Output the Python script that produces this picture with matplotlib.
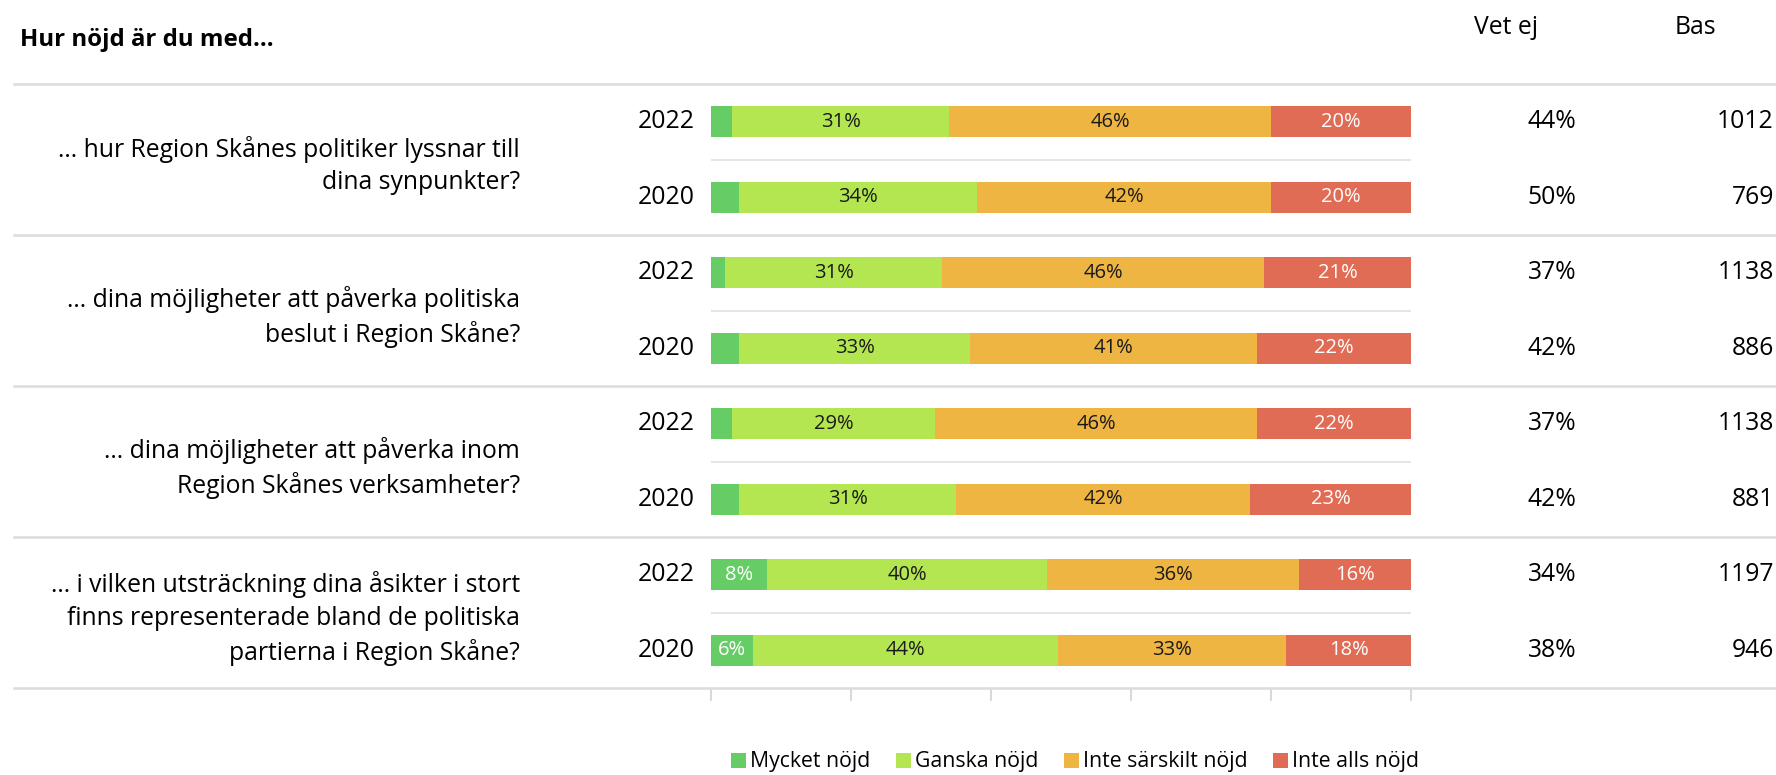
import matplotlib
matplotlib.use("Agg")
import matplotlib.pyplot as plt
import matplotlib.transforms as mtransforms
from matplotlib.lines import Line2D
from matplotlib.patches import Patch
import numpy as np

plt.rcParams['font.family'] = ['Open Sans', 'DejaVu Sans']

# --- data ---
questions = [
    "… hur Region Skånes politiker lyssnar till\ndina synpunkter?",
    "… dina möjligheter att påverka politiska\nbeslut i Region Skåne?",
    "… dina möjligheter att påverka inom\nRegion Skånes verksamheter?",
    "… i vilken utsträckning dina åsikter i stort\nfinns representerade bland de politiska\npartierna i Region Skåne?",
]
years = ["2022", "2020"] * 4
categories = ["Mycket nöjd", "Ganska nöjd", "Inte särskilt nöjd", "Inte alls nöjd"]
mycket = [3, 4, 2, 4, 3, 4, 8, 6]
ganska = [31, 34, 31, 33, 29, 31, 40, 44]
inte_sarskilt = [46, 42, 46, 41, 46, 42, 36, 33]
inte_alls = [20, 20, 21, 22, 22, 23, 16, 18]
vet_ej = [44, 50, 37, 42, 37, 42, 34, 38]
bas = [1012, 769, 1138, 886, 1138, 881, 1197, 946]

colors = ["#66CC66", "#B3E650", "#EFB543", "#E06C55"]
label_colors = ["white", "#1a1a1a", "#1a1a1a", "white"]

W, H = 1776, 775
fig = plt.figure(figsize=(W / 100, H / 100), dpi=100)

def fx(px):
    return px / W

def fy(py):
    return 1 - py / H

# bar axes: rows 0..7, separators at half rows
ax = fig.add_axes([fx(711), fy(688), fx(1411) - fx(711), fy(84) - fy(688)])
ax.set_xlim(0, 100)
ax.set_ylim(7.5, -0.5)

series = np.array([mycket, ganska, inte_sarskilt, inte_alls], dtype=float)
shares = series / series.sum(axis=0) * 100
rows = np.arange(len(years))
left = np.zeros(len(years))
for i, cat in enumerate(categories):
    ax.barh(rows, shares[i], left=left, height=0.41, color=colors[i], label=cat)
    for r in rows:
        if series[i, r] >= 5:
            ax.text(left[r] + shares[i, r] / 2, r, f"{series[i, r]:.0f}%",
                    ha='center', va='center', fontsize=14.5, color=label_colors[i])
    left += shares[i]

for s in ax.spines.values():
    s.set_visible(False)
ax.set_yticks([])
ax.set_xticks([0, 20, 40, 60, 80, 100])
ax.tick_params(axis='x', length=9, width=1.5, color='#D9D9D9', labelbottom=False)

blend = mtransforms.blended_transform_factory(fig.transFigure, ax.transData)

# group separators (full width) and row separators (bar area)
for g in range(5):
    y = g * 2 - 0.5
    ax.add_line(Line2D([fx(14), 1.0], [y, y], transform=blend, color='#DCDCDC',
                       lw=1.8, clip_on=False))
for g in range(4):
    y = g * 2 + 0.5
    ax.axhline(y, color='#E3E3E3', lw=1.3)

# year, vet ej, bas columns
for r in rows:
    fig.text(fx(695), r, years[r], transform=blend, ha='right', va='center', fontsize=17.8)
    fig.text(fx(1552), r, f"{vet_ej[r]}%", transform=blend, ha='center', va='center', fontsize=17.8)
    fig.text(fx(1774), r, f"{bas[r]}", transform=blend, ha='right', va='center', fontsize=17.8)

# question labels
for q, text in enumerate(questions):
    fig.text(fx(520), q * 2 + 0.58, text, transform=blend, ha='right', va='center',
             fontsize=17.8, linespacing=1.38, multialignment='right')

# headers
fig.text(fx(20), fy(40), "Hur nöjd är du med…", ha='left', va='center',
         fontsize=17.3, fontweight='bold')
fig.text(fx(1506), fy(28), "Vet ej", ha='center', va='center', fontsize=17.8)
fig.text(fx(1695), fy(28), "Bas", ha='center', va='center', fontsize=17.8)

handles = [Patch(facecolor=c, label=l) for c, l in zip(colors, categories)]
fig.legend(handles=handles, loc='center', bbox_to_anchor=(fx(1075), fy(762)), ncol=4,
           frameon=False, fontsize=15.3, handlelength=0.7, handleheight=0.7,
           handletextpad=0.2, columnspacing=1.2, borderpad=0.1)

fig.savefig("out.png", dpi=100)
